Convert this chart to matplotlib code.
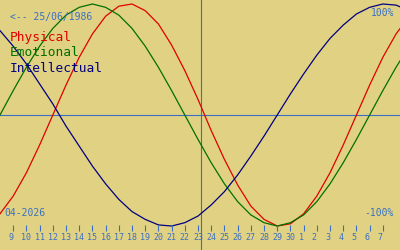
import matplotlib
matplotlib.use("Agg")
import matplotlib.pyplot as plt
import matplotlib.transforms as mtransforms

# Day index: April days as-is, May days continue after 30 (May 1 = 31)
days = list(range(8, 40))

physical = [-89, -73, -52, -27, 0, 27, 52, 73, 89, 98, 100, 94, 82, 63, 40, 14,
            -14, -40, -63, -82, -94, -100, -98, -89, -73, -52, -27, 0, 27, 52, 73, 89]
emotional = [0, 22, 43, 62, 78, 90, 97, 100, 97, 90, 78, 62, 43, 22, 0, -22,
             -43, -62, -78, -90, -97, -100, -97, -90, -78, -62, -43, -22, 0, 22, 43, 62]
intellectual = [76, 62, 46, 28, 10, -10, -28, -46, -62, -76, -87, -94, -99, -100, -97, -91,
                -81, -69, -54, -37, -19, 0, 19, 37, 54, 69, 81, 91, 97, 100, 99, 94]

tick_days = list(range(9, 38))
tick_labels = [str(d) for d in range(9, 31)] + [str(d) for d in range(1, 8)]
today = 23.19

BG = "#e1d283"
BLUE = "#3a6fc4"
RED = "#e00000"
GREEN = "#007000"
NAVY = "#000080"
MONO = "DejaVu Sans Mono"

fig = plt.figure(figsize=(4, 2.5), dpi=100, facecolor=BG)
ax = fig.add_axes([0, 0, 1, 1])
ax.set_facecolor(BG)
ax.set_xlim(8, 38.3)
ax.set_ylim(-121.6, 103.6)
ax.axis('off')

# Axis cross lines
ax.axhline(0, color=BLUE, lw=0.8)
ax.axvline(today, color=BLUE, lw=0.8)

# Curves
ax.plot(days, physical, color=RED, lw=0.9)
ax.plot(days, emotional, color=GREEN, lw=0.9)
ax.plot(days, intellectual, color=NAVY, lw=0.9)

# Day ticks near the bottom
trans = mtransforms.blended_transform_factory(ax.transData, ax.transAxes)
ax.vlines(tick_days, 0.076, 0.1, transform=trans, color=BLUE, lw=0.8)
label_trans = mtransforms.offset_copy(trans, fig=fig, x=-3.6, y=0, units='points')
for d, lab in zip(tick_days, tick_labels):
    ax.text(d, 0.04, lab, transform=label_trans, ha='left', va='baseline',
            fontsize=6, color=BLUE, family=MONO)

# Texts (pixel positions converted to figure fractions)
def px(x, y):
    return x / 400, 1 - y / 250

fig.text(*px(10, 20), "<-- 25/06/1986", fontsize=7, color=BLUE, family=MONO, va='baseline')
fig.text(*px(10, 41), "Physical", fontsize=9.3, color=RED, family=MONO, va='baseline')
fig.text(*px(10, 56.5), "Emotional", fontsize=9.3, color=GREEN, family=MONO, va='baseline')
fig.text(*px(10, 72), "Intellectual", fontsize=9.3, color=NAVY, family=MONO, va='baseline')
fig.text(*px(394, 16), "100%", fontsize=7, color=BLUE, family=MONO, va='baseline', ha='right')
fig.text(*px(394, 216), "-100%", fontsize=7, color=BLUE, family=MONO, va='baseline', ha='right')
fig.text(*px(4, 216), "04-2026", fontsize=7, color=BLUE, family=MONO, va='baseline')

fig.savefig("out.png", dpi=100, facecolor=BG)
